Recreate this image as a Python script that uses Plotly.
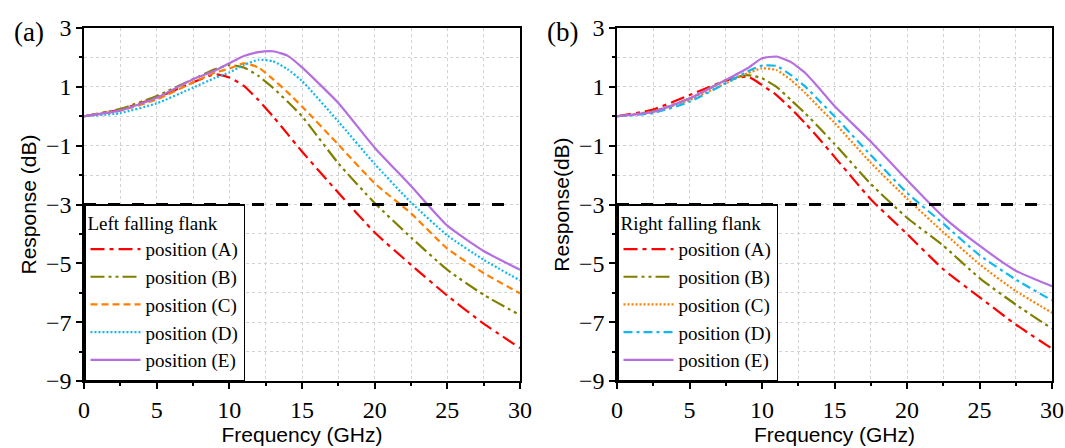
import plotly.graph_objects as go

# ---------------- data ----------------
freq = [0, 2.5, 5, 7.5, 9, 10, 11, 12, 13, 14, 15, 17.5, 20, 22.5, 25, 27.5, 30]

left_A = [0, 0.23, 0.63, 1.15, 1.43, 1.32, 1.03, 0.55, 0.0, -0.6, -1.2, -2.6, -3.95, -5.05, -6.1, -7.05, -7.88]
left_B = [0, 0.25, 0.69, 1.26, 1.6, 1.74, 1.66, 1.37, 0.97, 0.5, 0.0, -1.6, -2.95, -4.12, -5.22, -6.07, -6.76]
left_C = [0, 0.19, 0.57, 1.15, 1.48, 1.62, 1.8, 1.66, 1.26, 0.82, 0.33, -0.96, -2.28, -3.3, -4.5, -5.33, -6.02]
left_D = [0, 0.11, 0.44, 0.97, 1.3, 1.49, 1.74, 1.92, 1.87, 1.6, 1.2, -0.18, -1.62, -2.93, -4.05, -4.88, -5.58]
left_E = [0, 0.2, 0.63, 1.26, 1.55, 1.8, 2.05, 2.18, 2.21, 2.06, 1.66, 0.45, -1.07, -2.37, -3.72, -4.58, -5.22]

right_A = [0, 0.23, 0.72, 1.21, 1.35, 1.06, 0.72, 0.26, -0.25, -0.8, -1.38, -2.82, -4.0, -5.2, -6.15, -7.08, -7.9]
right_B = [0, 0.17, 0.6, 1.23, 1.4, 1.29, 1.0, 0.55, 0.09, -0.42, -0.94, -2.3, -3.45, -4.4, -5.5, -6.4, -7.22]
right_C = [0, 0.15, 0.55, 1.12, 1.46, 1.63, 1.57, 1.23, 0.78, 0.27, -0.22, -1.58, -2.8, -3.94, -5.03, -5.94, -6.68]
right_D = [0, 0.11, 0.49, 1.12, 1.52, 1.72, 1.71, 1.4, 1.0, 0.5, 0.0, -1.32, -2.6, -3.65, -4.72, -5.55, -6.26]
right_E = [0, 0.15, 0.6, 1.23, 1.63, 1.97, 2.03, 1.84, 1.46, 0.92, 0.35, -0.86, -2.17, -3.42, -4.4, -5.25, -5.78]

names = ["position (A)", "position (B)", "position (C)", "position (D)", "position (E)"]
THRESHOLD = -3

# ---------------- styles ----------------
colors_left = ["#FF0000", "#808000", "#FF8000", "#10B8F0", "#B46EE0"]
dashes_left = ["14px,5px,4px,5px", "14px,4px,3px,4px,3px,4px", "7px,4px", "2px,2px", "solid"]
colors_right = ["#FF0000", "#808000", "#FF8000", "#10B8F0", "#B46EE0"]
dashes_right = ["14px,5px,4px,5px", "14px,4px,3px,4px,3px,4px", "2px,2px", "9px,4px,3px,4px", "solid"]

SERIF = "Liberation Serif, Times New Roman, serif"
SANS = "Liberation Sans, Arial, sans-serif"

fig = go.Figure()

left_sets = [left_A, left_B, left_C, left_D, left_E]
right_sets = [right_A, right_B, right_C, right_D, right_E]

for i, ys in enumerate(left_sets):
    fig.add_trace(go.Scatter(
        x=freq, y=ys, name=names[i], mode="lines",
        line=dict(color=colors_left[i], width=2.2, dash=dashes_left[i], shape="spline", smoothing=0.5),
        xaxis="x", yaxis="y", legend="legend"))

for i, ys in enumerate(right_sets):
    fig.add_trace(go.Scatter(
        x=freq, y=ys, name=names[i], mode="lines",
        line=dict(color=colors_right[i], width=2.2, dash=dashes_right[i], shape="spline", smoothing=0.5),
        xaxis="x2", yaxis="y2", legend="legend2"))

# -3 dB reference lines
for xr, yr in [("x", "y"), ("x2", "y2")]:
    fig.add_shape(type="line", xref=xr + " domain", yref=yr, x0=0, x1=0.977,
                  y0=THRESHOLD, y1=THRESHOLD,
                  line=dict(color="black", width=3, dash="12px,12px"), layer="above")

L, R, T, B = 84, 13, 28, 67
W, H = 1065, 448
pw = W - L - R
dom_a = [0, (520 - L) / pw]
dom_b = [(617 - L) / pw, 1]

grid = dict(showgrid=True, gridcolor="#D2D2D2", griddash="dot", gridwidth=1)

def xax(domain, anchor):
    return dict(domain=domain, anchor=anchor, range=[0, 30], tick0=0, dtick=5,
                ticks="outside", ticklen=6, tickwidth=1.5, tickcolor="black",
                showline=True, linecolor="black", linewidth=1.5, mirror=True,
                tickfont=dict(family=SERIF, size=24, color="black"),
                title=dict(text="Frequency (GHz)", font=dict(family=SANS, size=21, color="black"), standoff=4),
                minor=dict(dtick=2.5, tick0=0, ticks="outside", ticklen=3, tickwidth=1.5, tickcolor="black",
                           showgrid=True, gridcolor="#D2D2D2", griddash="dot", gridwidth=1),
                zeroline=False, automargin=False, **grid)

def yax(anchor, title):
    return dict(domain=[0, 1], anchor=anchor, range=[-9, 3], tick0=-9, dtick=2,
                ticks="outside", ticklen=6, tickwidth=1.5, tickcolor="black",
                showline=True, linecolor="black", linewidth=1.5, mirror=True,
                tickfont=dict(family=SERIF, size=24, color="black"),
                title=dict(text=title, font=dict(family=SANS, size=21, color="black"), standoff=4),
                minor=dict(dtick=1, tick0=-9, ticks="outside", ticklen=3, tickwidth=1.5, tickcolor="black",
                           showgrid=True, gridcolor="#D2D2D2", griddash="dot", gridwidth=1),
                zeroline=False, automargin=False, **grid)

leg_common = dict(bgcolor="white", bordercolor="black", borderwidth=1.5,
                  font=dict(family=SERIF, size=19, color="black"),
                  yanchor="bottom", y=0, xanchor="left", tracegroupgap=0,
                  itemwidth=50)

fig.update_layout(
    width=W, height=H,
    margin=dict(l=L, r=R, t=T, b=B, autoexpand=False),
    paper_bgcolor="white", plot_bgcolor="white",
    xaxis=xax(dom_a, "y"), yaxis=yax("x", "Response (dB)"),
    xaxis2=xax(dom_b, "y2"), yaxis2=yax("x2", "Response(dB)"),
    legend=dict(x=dom_a[0], title=dict(text="Left falling flank", font=dict(family=SERIF, size=19, color="black")), **leg_common),
    legend2=dict(x=dom_b[0], title=dict(text="Right falling flank", font=dict(family=SERIF, size=19, color="black")), **leg_common),
    annotations=[
        dict(text="(a)", xref="paper", yref="paper", x=(12 - L) / pw, y=(H - B - 32) / (H - T - B),
             xanchor="left", yanchor="middle", showarrow=False, font=dict(family=SERIF, size=27, color="black")),
        dict(text="(b)", xref="paper", yref="paper", x=(545 - L) / pw, y=(H - B - 32) / (H - T - B),
             xanchor="left", yanchor="middle", showarrow=False, font=dict(family=SERIF, size=27, color="black")),
    ],
)

fig.write_html("out.html", config={"displayModeBar": False},
               post_script="document.body.style.margin='0px';")
